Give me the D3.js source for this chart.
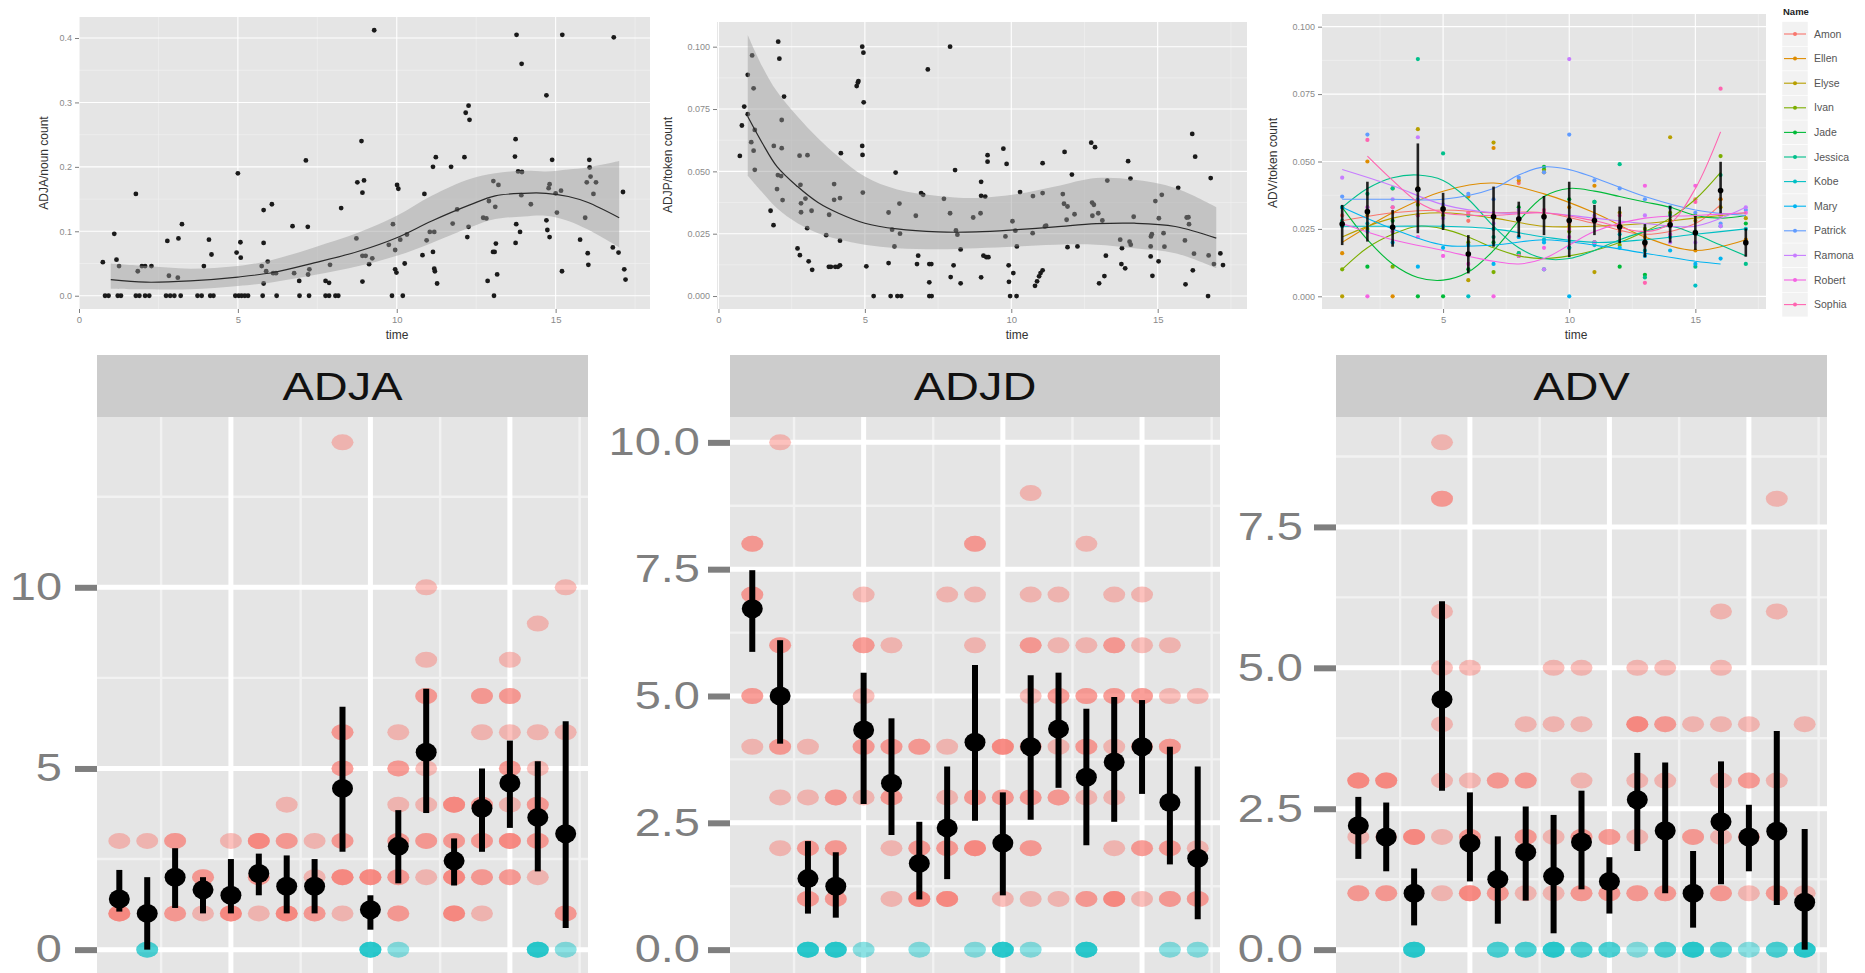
<!DOCTYPE html>
<html>
<head>
<meta charset="utf-8">
<script src="https://cdn.jsdelivr.net/npm/d3@7"></script>
<style>
  body { margin: 0; background: #fff; }
  svg { display: block; font-family: "Liberation Sans", Arial, sans-serif; }
</style>
</head>
<body>
<svg id="chart" width="1865" height="973"></svg>
<script>
// ---------- top left: ADJA / noun count ----------
const adjaNounPoints = [
  [0.82,0],[0.93,0],[1.22,0],[1.32,0],[1.79,0],[1.90,0],[2.08,0],[2.21,0],[2.74,0],[2.87,0],[3.00,0],[3.20,0],
  [3.73,0],[3.86,0],[4.13,0],[4.23,0],[4.92,0],[5.03,0],[5.12,0],[5.22,0],[5.32,0],[5.78,0],[6.22,0],[6.94,0],
  [7.24,0],[7.76,0],[7.87,0],[8.07,0],[8.16,0],[9.85,0],[10.19,0],[13.06,0],
  [0.75,0.052],[1.11,0.096],[1.18,0.056],[1.26,0.046],[1.79,0.158],[1.85,0.038],[1.98,0.046],[2.08,0.046],
  [2.28,0.046],[2.78,0.085],[2.83,0.031],[3.11,0.028],[3.13,0.089],[3.24,0.111],[3.93,0.046],[4.09,0.087],
  [4.17,0.064],[4.96,0.067],[5.00,0.190],[5.08,0.083],[5.09,0.059],[5.75,0.046],[5.81,0.133],[5.81,0.082],
  [5.81,0.019],[5.89,0.038],[5.94,0.053],[6.07,0.142],[6.11,0.035],[6.20,0.035],[6.72,0.108],[6.77,0.035],
  [6.93,0.023],[7.14,0.210],[7.20,0.107],[7.21,0.033],[7.25,0.041],[7.76,0.023],[7.87,0.020],[7.90,0.048],
  [8.25,0.136],[8.73,0.089],[8.76,0.176],[8.89,0.240],[8.92,0.160],[8.97,0.179],[8.92,0.062],[8.92,0.022],
  [9.02,0.062],[9.13,0.049],[9.23,0.058],[9.29,0.412],[9.75,0.079],[9.88,0.111],[9.95,0.071],[9.95,0.041],
  [9.99,0.036],[10.01,0.172],[10.05,0.166],[10.11,0.087],[10.25,0.050],[10.32,0.095],[10.81,0.063],[10.87,0.158],
  [10.94,0.086],[11.04,0.099],[11.14,0.200],[11.18,0.099],[11.14,0.068],[11.18,0.042],[11.20,0.038],[11.23,0.215],
  [11.27,0.019],[11.71,0.200],[11.76,0.112],[11.90,0.134],[12.13,0.215],[12.17,0.284],[12.26,0.295],[12.29,0.273],
  [12.22,0.091],[12.26,0.107],[12.72,0.121],[12.82,0.120],[12.86,0.023],[12.90,0.147],[13.04,0.178],[13.10,0.138],
  [13.03,0.068],[13.08,0.068],[13.12,0.081],[13.16,0.033],[13.20,0.172],[13.77,0.405],[13.93,0.360],[13.74,0.243],
  [13.72,0.216],[13.82,0.193],[13.94,0.192],[13.76,0.111],[13.74,0.082],[13.88,0.099],[13.92,0.156],[14.22,0.142],
  [14.71,0.311],[14.71,0.117],[14.74,0.102],[14.78,0.167],[14.81,0.173],[14.81,0.091],[14.89,0.211],[15.00,0.159],
  [15.04,0.129],[15.17,0.163],[15.21,0.405],[15.20,0.038],[15.77,0.087],[15.93,0.121],[15.98,0.176],[16.01,0.066],
  [16.03,0.048],[16.06,0.211],[16.07,0.199],[16.10,0.185],[16.19,0.158],[16.27,0.176],[16.83,0.401],[16.80,0.075],
  [16.98,0.067],[17.12,0.161],[17.16,0.041],[17.20,0.025]
];
const adjaNounSmoothTime = [1, 2.1, 3.5, 5, 6.1, 7.4, 8.8, 10, 11.1, 12.3, 13.1, 14, 14.7, 15.4, 16, 17];
const adjaNounFit   = [0.025,0.021,0.023,0.029,0.036,0.051,0.069,0.090,0.116,0.141,0.155,0.159,0.159,0.154,0.145,0.121];
const adjaNounLower = [0.011,0.010,0.010,0.015,0.021,0.032,0.046,0.062,0.082,0.106,0.119,0.123,0.124,0.116,0.103,0.075];
const adjaNounUpper = [0.050,0.046,0.042,0.046,0.056,0.075,0.098,0.124,0.155,0.181,0.190,0.194,0.193,0.196,0.199,0.209];

// ---------- top middle: ADJP / token count ----------
const adjpTokenPoints = [
  [0.73,0.0562],[0.80,0.0684],[0.88,0.0760],[1.00,0.0887],[1.00,0.0729],[1.12,0.0617],[1.15,0.0965],[1.20,0.0833],
  [1.20,0.0583],[1.24,0.0506],[1.24,0.0666],[1.78,0.0342],[1.88,0.0284],[1.89,0.0602],[2.00,0.0429],[2.03,0.0485],
  [2.04,0.1020],[2.08,0.0952],[2.14,0.0481],[2.16,0.0706],[2.16,0.0593],[2.19,0.0385],[2.24,0.0800],[2.70,0.0191],
  [2.77,0.0563],[2.78,0.0164],[2.80,0.0446],[2.82,0.0336],[2.82,0.0372],[2.97,0.0391],[3.04,0.0565],[3.03,0.0272],
  [3.08,0.0139],[3.20,0.0105],[3.18,0.0342],[3.68,0.0244],[3.77,0.0117],[3.78,0.0326],[3.84,0.0117],[3.95,0.0449],
  [3.95,0.0386],[3.99,0.0117],[4.08,0.0117],[4.15,0.0123],[4.15,0.0222],[4.15,0.0393],[4.18,0.0573],[4.72,0.0842],
  [4.76,0.0856],[4.78,0.0862],[4.91,0.1000],[4.91,0.0602],[4.92,0.0566],[4.93,0.0415],[4.95,0.0976],[4.96,0.0777],
  [5.05,0.0119],[5.30,0],[5.81,0.0335],[5.81,0.0132],[5.88,0],[5.93,0.0266],[6.01,0.0199],[6.05,0.0495],
  [6.11,0],[6.18,0.0371],[6.20,0.0250],[6.24,0],[6.74,0.0322],[6.82,0.0162],[6.78,0.0128],[6.92,0.0413],
  [6.99,0.0406],[7.15,0.0909],[7.20,0],[7.20,0.0128],[7.20,0.0055],[7.27,0.0128],[7.28,0],[7.70,0.0390],
  [7.91,0.0332],[7.91,0.1000],[7.93,0.0076],[8.03,0.0123],[8.08,0.0505],[8.11,0.0263],[8.16,0.0246],[8.27,0.0187],
  [8.27,0.0051],[8.70,0.0315],[8.95,0.0332],[8.97,0.0075],[8.97,0.0458],[8.97,0.0402],[9.05,0.0162],[9.11,0.0399],
  [9.15,0.0156],[9.19,0.0565],[9.19,0.0539],[9.22,0.0156],[9.73,0.0591],[9.80,0.0239],[9.84,0.0530],[9.91,0.0123],
  [9.92,0.0057],[9.96,0],[10.04,0.0300],[10.07,0.0092],[10.14,0.0262],[10.19,0.0199],[10.18,0],[10.30,0.0417],
  [10.73,0.0252],[10.74,0.0401],[10.81,0.0041],[10.88,0.0059],[10.95,0.0079],[11.00,0.0092],[11.07,0.0103],[11.07,0.0533],
  [11.07,0.0413],[11.15,0.0279],[11.19,0.0282],[11.76,0.0409],[11.80,0.0370],[11.82,0.0578],[11.92,0.0359],[11.89,0.0306],
  [11.92,0.0196],[12.07,0.0487],[12.16,0.0328],[12.26,0.0199],[12.73,0.0615],[12.76,0.0375],[12.77,0.0322],[12.82,0.0366],
  [12.86,0.0597],[12.97,0.0332],[13.00,0.0051],[13.11,0.0303],[13.18,0.0080],[13.23,0.0162],[13.28,0.0463],[13.72,0.0226],
  [13.76,0.0128],[13.78,0.0192],[13.89,0.0111],[13.99,0.0541],[14.04,0.0218],[14.07,0.0471],[14.08,0.0206],[14.18,0.0318],
  [14.76,0.0159],[14.76,0.0199],[14.82,0.0081],[14.77,0.0239],[14.80,0.0248],[14.92,0.0381],[15.03,0.0139],[15.04,0.0312],
  [15.14,0.0406],[15.20,0.0252],[15.23,0.0198],[15.70,0.0434],[15.95,0.0047],[15.93,0.0223],[15.99,0.0315],[16.05,0.0316],
  [16.07,0.0288],[16.18,0.0650],[16.20,0.0103],[16.24,0.0170],[16.28,0.0559],[16.72,0],[16.74,0.0163],[16.81,0.0473],
  [16.92,0.0128],[17.14,0.0171],[17.23,0.0124]
];
const adjpTokenSmoothTime = [1, 1.5, 2, 2.7, 3.4, 4.1, 5, 6.1, 7.5, 8.8, 10.2, 11.5, 12.9, 14.2, 15.6, 17];
const adjpTokenFit   = [0.0720,0.0613,0.0519,0.0439,0.0375,0.0332,0.0292,0.0269,0.0257,0.0257,0.0266,0.0277,0.0290,0.0292,0.0279,0.0232];
const adjpTokenLower = [0.0482,0.0415,0.0352,0.0292,0.0252,0.0228,0.0206,0.0192,0.0188,0.0192,0.0199,0.0206,0.0206,0.0192,0.0172,0.0112];
const adjpTokenUpper = [0.1047,0.0920,0.0820,0.0720,0.0633,0.0559,0.0479,0.0427,0.0401,0.0393,0.0409,0.0439,0.0473,0.0466,0.0433,0.0356];

// ---------- top right: ADV / token count by speaker ----------
const speakerNames  = ["Amon","Ellen","Elyse","Ivan","Jade","Jessica","Kobe","Mary","Patrick","Ramona","Robert","Sophia"];
const speakerColors = ["#F8766D","#DE8C00","#B79F00","#7CAE00","#00BA38","#00C08B","#00BFC4","#00B4F0","#619CFF","#C77CFF","#F564E3","#FF64B0"];
// one row per speaker, times 1..17
const advTokenValues = [
  [0.030,0.033,0.031,0.035,0.031,0.028,0.030,0.042,0.031,0.027,0.029,0.024,0.019,0.028,0.036,0.036,null],
  [0.016,0.050,0.000,0.040,0.033,0.037,0.055,0.043,0.046,0.033,0.041,0.025,0.022,0.028,0.017,0.036,0.021],
  [0.000,0.030,0.040,0.062,0.031,0.006,0.057,0.016,0.030,0.026,0.009,0.031,0.020,0.059,0.028,0.033,0.029],
  [0.010,0.025,0.011,0.034,0.030,0.020,0.009,0.015,0.047,0.024,0.020,0.019,0.025,0.031,0.030,0.052,null],
  [0.033,0.011,0.028,0.000,0.000,0.010,0.020,0.033,0.048,0.036,0.035,0.011,0.008,0.033,0.024,0.030,0.027],
  [0.028,0.038,0.040,0.088,0.053,0.030,0.022,0.016,0.010,0.018,0.035,0.049,0.007,0.030,0.011,0.045,0.012],
  [0.026,0.027,0.024,0.030,0.026,0.000,0.025,0.022,0.021,0.018,0.019,0.023,0.017,0.022,0.004,0.026,0.025],
  [0.033,0.024,0.020,0.011,0.018,0.019,0.012,0.022,0.020,0.000,0.020,0.018,0.015,0.017,0.012,0.014,null],
  [0.037,0.060,0.033,0.036,0.034,0.038,0.036,0.044,0.046,0.060,0.043,0.040,0.036,0.033,0.031,0.027,0.032],
  [0.044,0.033,0.036,0.059,0.029,0.031,0.027,0.032,0.010,0.088,0.030,0.026,0.030,0.020,0.020,0.026,0.033],
  [0.027,0.000,0.024,0.022,0.015,0.012,0.000,0.015,0.018,0.022,0.020,0.027,0.041,0.023,0.041,0.030,0.031],
  [null,0.058,0.033,0.030,0.031,0.031,0.031,0.029,0.032,0.025,0.029,0.030,0.005,0.026,0.035,0.077,null]
];
// smoothed trend per speaker as [time, value] knots
const advTokenSmooth = [
  [[1,0.028],[3,0.031],[5,0.032],[7,0.031],[9,0.031],[11,0.027],[13,0.023],[15,0.027],[16,0.034]],
  [[1,0.020],[3,0.031],[5,0.039],[7,0.042],[9,0.038],[11,0.031],[13,0.022],[15,0.017],[17,0.021]],
  [[1,0.022],[3,0.029],[5,0.031],[7,0.029],[9,0.026],[11,0.026],[13,0.027],[15,0.029],[17,0.031]],
  [[1,0.010],[2,0.018],[3,0.023],[4,0.026],[5,0.025],[6,0.022],[7,0.018],[8,0.015],[9,0.014],[10,0.015],[11,0.017],[12,0.020],[13,0.024],[14,0.029],[15,0.036],[16,0.046]],
  [[1,0.033],[2,0.021],[3,0.012],[4,0.007],[5,0.006],[6,0.009],[7,0.017],[8,0.028],[9,0.037],[10,0.040],[11,0.039],[12,0.037],[13,0.035],[14,0.033],[15,0.030],[16,0.029],[17,0.030]],
  [[1,0.033],[2,0.040],[3,0.044],[4,0.045],[5,0.043],[6,0.036],[7,0.026],[8,0.018],[9,0.014],[10,0.014],[11,0.017],[12,0.021],[13,0.024],[14,0.026],[15,0.023],[16,0.019],[17,0.015]],
  [[1,0.026],[3,0.026],[5,0.026],[7,0.025],[9,0.022],[11,0.020],[13,0.021],[15,0.023],[17,0.025]],
  [[1,0.033],[3,0.025],[5,0.019],[7,0.019],[9,0.021],[11,0.019],[13,0.016],[15,0.013],[16,0.012]],
  [[1,0.036],[3,0.036],[5,0.036],[7,0.040],[8,0.045],[9,0.048],[10,0.047],[11,0.044],[13,0.037],[15,0.032],[17,0.030]],
  [[1,0.047],[3,0.041],[5,0.034],[7,0.031],[9,0.031],[11,0.029],[13,0.027],[15,0.026],[17,0.033]],
  [[1,0.027],[3,0.021],[5,0.017],[7,0.013],[8,0.012],[9,0.014],[10,0.019],[11,0.024],[13,0.029],[15,0.030],[17,0.031]],
  [[2,0.052],[3,0.043],[4,0.035],[5,0.031],[7,0.030],[9,0.031],[11,0.028],[13,0.024],[14,0.027],[15,0.040],[16,0.061]]
];
const advTokenMean = [0.0268,0.0314,0.0256,0.0397,0.0324,0.0157,0.0295,0.0287,0.0295,0.0281,0.0281,0.0258,0.0199,0.0265,0.0236,0.0392,0.0199];
const advTokenLo   = [0.0190,0.0203,0.0184,0.0234,0.0246,0.0085,0.0184,0.0219,0.0227,0.0145,0.0227,0.0197,0.0145,0.0199,0.0172,0.0308,0.0147];
const advTokenHi   = [0.0339,0.0425,0.0320,0.0567,0.0384,0.0227,0.0407,0.0351,0.0372,0.0425,0.0339,0.0333,0.0268,0.0335,0.0298,0.0499,0.0252];

// ---------- bottom facets: counts per recording (time 1..17) ----------
const facetNames = ["ADJA", "ADJD", "ADV"];
const adjaObs = [[3,1,1,1],[3,0,0],[3,3,1,1],[2,2,1],[3,1,1,1],[3,3,3,2,2,1],[4,3,3,1,1,1],[3,2,1,1],
  [14,6,6,5,5,3,3,2,2,2,1],[2,2,2,0,0,0],[6,5,5,4,3,3,2,2,1,1,0],[10,8,7,7,5,4,3,3,2],[4,4,4,3,3,2,2,2,1,1,1],
  [7,7,6,4,4,3,3,2,2,1],[8,7,7,6,5,5,4,3,3,3,2,2],[9,6,5,4,4,3,3,2,0,0,0],[10,6,1,1,0]];
const adjaMean = [1.4,1.0,2.0,1.65,1.5,2.1,1.75,1.75,4.45,1.1,2.85,5.45,2.45,3.9,4.6,3.65,3.2];
const adjaLo   = [1.05,0.0,1.15,1.0,1.0,1.5,1.0,1.0,2.7,0.55,1.83,3.77,1.77,2.7,3.36,2.16,0.6];
const adjaHi   = [2.2,2.0,2.8,2.0,2.5,2.65,2.6,2.5,6.7,1.5,3.85,7.2,3.07,5.0,5.77,5.2,6.3];

const adjdObs = [[8,8,7,7,5,5,4],[10,6,6,4,4,3,2],[4,3,2,2,1,1,0,0,0],[3,3,2,2,1,1,0,0,0],[7,6,6,5,4,4,3,0],
  [6,4,4,3,3,2,1],[4,4,2,2,1,1,1,0],[7,4,3,2,2,1,1,1],[8,8,7,6,3,3,2,2,2,0],[4,4,4,3,3,1,0,0,0],
  [9,7,6,6,5,4,4,3,3,2,2,1,0],[7,6,5,5,4,3,3,1],[8,6,5,5,4,4,3,1,1,0,0,0],[7,6,6,5,5,4,3,2,1,1,1],
  [7,6,5,5,4,4,2,2,1],[6,5,4,4,2,2,1,1,0],[5,2,1,1,0]];
const adjdMean = [6.72,5.0,1.4,1.25,4.33,3.28,1.7,2.4,4.09,2.1,4.0,4.35,3.4,3.7,4.0,2.9,1.8];
const adjdLo   = [5.87,4.06,0.71,0.63,2.87,2.26,0.99,1.39,2.54,1.07,2.56,3.19,2.06,2.52,3.07,1.68,0.6];
const adjdHi   = [7.48,6.1,2.14,1.92,5.46,4.56,2.52,3.61,5.61,3.1,5.41,5.46,4.75,4.98,4.92,4.0,3.61];

const advObs = [[3,3,3,2,1,1],[3,3,3,2,1,1],[2,2,2,0,0,0],[9,8,8,6,5,4,3,2,1],[5,3,2,2,1,1,1],[3,3,1,1,0,0],
  [4,3,3,2,2,1,0,0],[5,4,2,1,0,0,0],[5,4,3,2,2,1,1,0,0],[2,2,1,1,0,0],[5,4,4,4,3,2,1,1,0],[5,4,4,3,1,1,0,0],
  [4,2,2,0,0,0],[6,5,4,3,2,1,1,0,0],[4,3,3,2,2,1,0],[8,6,3,1,1,0,0],[4,1,0,0,0]];
const advMean = [2.2,2.0,1.0,4.44,1.89,1.25,1.73,1.3,1.91,1.21,2.66,2.11,1.0,2.27,2.0,2.1,0.84];
const advLo   = [1.61,1.39,0.43,2.82,1.21,0.46,0.87,0.29,1.07,0.64,1.75,1.0,0.39,1.16,1.39,0.79,0.0];
const advHi   = [2.71,2.61,1.44,6.18,2.79,2.01,2.54,2.39,2.82,1.64,3.49,3.32,1.75,3.34,2.57,3.88,2.14];

const facetBreaks = [[0,5,10],[0,2.5,5,7.5,10],[0,2.5,5,7.5]];

// ------------------------------------------------------------
const svg = d3.select("#chart");
const PANEL = "#E5E5E5", MINOR = "#F2F2F2";
const STRETCH = 1.22; // the lower strip of panels is stretched sideways

function drawGrid(g, x, y, xMajor, xMinor, yMajor, yMinor, wMajor, wMinor) {
  const [x0, x1] = x.range(), [y0, y1] = y.range();
  g.append("rect").attr("x", x0).attr("y", y1).attr("width", x1 - x0).attr("height", y0 - y1).attr("fill", PANEL);
  const vl = (vals, col, w) => g.append("g").selectAll("line").data(vals).join("line")
    .attr("x1", d => x(d)).attr("x2", d => x(d)).attr("y1", y0).attr("y2", y1)
    .attr("stroke", col).attr("stroke-width", w);
  const hl = (vals, col, w) => g.append("g").selectAll("line").data(vals).join("line")
    .attr("y1", d => y(d)).attr("y2", d => y(d)).attr("x1", x0).attr("x2", x1)
    .attr("stroke", col).attr("stroke-width", w);
  vl(xMinor, MINOR, wMinor); hl(yMinor, MINOR, wMinor);
  vl(xMajor, "#fff", wMajor); hl(yMajor, "#fff", wMajor);
}

function styleAxis(sel, size, color, tickW) {
  sel.select(".domain").remove();
  sel.selectAll(".tick line").attr("stroke", "#7f7f7f").attr("stroke-width", tickW);
  sel.selectAll(".tick text").attr("fill", color).style("font-size", size + "px").style("font-family", "Liberation Sans, Arial, sans-serif");
}

function topAxes(g, x, y, xTicks, yTicks, yFmt, xTitle, yTitle) {
  const yb = y.range()[0], xl = x.range()[0];
  g.append("g").attr("transform", `translate(0,${yb})`)
    .call(d3.axisBottom(x).tickValues(xTicks).tickSize(4).tickPadding(3).tickFormat(d3.format("d")))
    .call(s => styleAxis(s, 9.5, "#8a8a8a", 1));
  g.append("g").attr("transform", `translate(${xl},0)`)
    .call(d3.axisLeft(y).tickValues(yTicks).tickSize(4).tickPadding(3).tickFormat(yFmt))
    .call(s => styleAxis(s, 9, "#8a8a8a", 1));
  g.append("text").attr("x", xTitle[0]).attr("y", xTitle[1]).attr("text-anchor", "middle")
    .attr("font-size", 12).attr("fill", "#333").text(xTitle[2]);
  g.append("text").attr("transform", `translate(${yTitle[0]},${yTitle[1]}) rotate(-90)`)
    .attr("text-anchor", "middle").attr("font-size", 12).attr("fill", "#333").text(yTitle[2]);
}

function smoothPanel(g, x, y, pts, tt, fit, lo, hi) {
  const band = tt.map((t, i) => ({ t, f: fit[i], lo: lo[i], hi: hi[i] }));
  g.append("g").selectAll("circle").data(pts).join("circle")
    .attr("cx", d => x(d[0])).attr("cy", d => y(d[1])).attr("r", 2.4).attr("fill", "#1a1a1a");
  g.append("path").datum(band).attr("fill", "#999").attr("fill-opacity", 0.45)
    .attr("d", d3.area().curve(d3.curveCatmullRom).x(d => x(d.t)).y0(d => y(d.lo)).y1(d => y(d.hi)));
  g.append("path").datum(band).attr("fill", "none").attr("stroke", "#2a2a2a").attr("stroke-width", 1.2)
    .attr("d", d3.line().curve(d3.curveCatmullRom).x(d => x(d.t)).y(d => y(d.f)));
}

// ---- panel 1
{
  const g = svg.append("g");
  const x = d3.scaleLinear([0, 17.97], [79, 650]);
  const y = d3.scaleLinear([-0.0206, 0.4326], [309, 17]);
  drawGrid(g, x, y, [0,5,10,15], [2.5,7.5,12.5,17.5], [0,0.1,0.2,0.3,0.4], [0.05,0.15,0.25,0.35], 1.1, 0.6);
  smoothPanel(g, x, y, adjaNounPoints, adjaNounSmoothTime, adjaNounFit, adjaNounLower, adjaNounUpper);
  topAxes(g, x, y, [0,5,10,15], [0,0.1,0.2,0.3,0.4], d3.format(".1f"),
    [397, 339, "time"], [48, 163, "ADJA/noun count"]);
}
// ---- panel 2
{
  const g = svg.append("g");
  const x = d3.scaleLinear([-0.05, 18.05], [717, 1247]);
  const y = d3.scaleLinear([-0.0052, 0.1099], [309, 22]);
  drawGrid(g, x, y, [0,5,10,15], [2.5,7.5,12.5,17.5], [0,0.025,0.05,0.075,0.1], [0.0125,0.0375,0.0625,0.0875], 1.1, 0.6);
  smoothPanel(g, x, y, adjpTokenPoints, adjpTokenSmoothTime, adjpTokenFit, adjpTokenLower, adjpTokenUpper);
  topAxes(g, x, y, [0,5,10,15], [0,0.025,0.05,0.075,0.1], d3.format(".3f"),
    [1017, 339, "time"], [672, 165, "ADJP/token count"]);
}
// ---- panel 3
{
  const g = svg.append("g");
  const x = d3.scaleLinear([0.2, 17.8], [1322, 1766]);
  const y = d3.scaleLinear([-0.0047, 0.1047], [309, 14]);
  drawGrid(g, x, y, [5,10,15], [2.5,7.5,12.5,17.5], [0,0.025,0.05,0.075,0.1], [0.0125,0.0375,0.0625,0.0875], 1.1, 0.6);
  const pts = [];
  advTokenValues.forEach((row, k) => row.forEach((v, i) => { if (v !== null) pts.push({ t: i + 1, v, k }); }));
  g.append("g").selectAll("circle").data(pts).join("circle")
    .attr("cx", d => x(d.t)).attr("cy", d => y(d.v)).attr("r", 2.1).attr("fill", d => speakerColors[d.k]);
  const line = d3.line().curve(d3.curveCatmullRom).x(d => x(d[0])).y(d => y(d[1]));
  g.append("g").selectAll("path").data(advTokenSmooth).join("path")
    .attr("d", line).attr("fill", "none").attr("stroke", (d, i) => speakerColors[i]).attr("stroke-width", 1.1);
  const times = d3.range(1, 18);
  g.append("g").selectAll("line").data(times).join("line")
    .attr("x1", t => x(t)).attr("x2", t => x(t))
    .attr("y1", t => y(advTokenLo[t - 1])).attr("y2", t => y(advTokenHi[t - 1]))
    .attr("stroke", "#000").attr("stroke-width", 2.6).attr("stroke-opacity", 0.85);
  g.append("g").selectAll("circle").data(times).join("circle")
    .attr("cx", t => x(t)).attr("cy", t => y(advTokenMean[t - 1])).attr("r", 2.8).attr("fill", "#000");
  topAxes(g, x, y, [5,10,15], [0,0.025,0.05,0.075,0.1], d3.format(".3f"),
    [1576, 339, "time"], [1277, 163, "ADV/token count"]);

  // legend
  const lg = svg.append("g");
  lg.append("text").attr("x", 1783).attr("y", 15).attr("font-size", 9.5).attr("font-weight", "bold")
    .attr("fill", "#222").text("Name");
  const rows = lg.selectAll("g.key").data(speakerNames).join("g").attr("class", "key")
    .attr("transform", (d, i) => `translate(0,${34 + i * 24.6})`);
  rows.append("rect").attr("x", 1782).attr("y", -12.3).attr("width", 26).attr("height", 24.6)
    .attr("fill", MINOR).attr("stroke", "#fff").attr("stroke-width", 0.5);
  rows.append("line").attr("x1", 1784).attr("x2", 1806).attr("y1", 0).attr("y2", 0)
    .attr("stroke", (d, i) => speakerColors[i]).attr("stroke-width", 1.1);
  rows.append("circle").attr("cx", 1795).attr("cy", 0).attr("r", 2).attr("fill", (d, i) => speakerColors[i]);
  rows.append("text").attr("x", 1814).attr("y", 3.5).attr("font-size", 10.5).attr("fill", "#555").text(d => d);
}

// ---- bottom facets
const facetData = [
  { obs: adjaObs, mean: adjaMean, lo: adjaLo, hi: adjaHi, fmt: d3.format("d"), left: 97, right: 588, pad: 13 },
  { obs: adjdObs, mean: adjdMean, lo: adjdLo, hi: adjdHi, fmt: d3.format(".1f"), left: 730, right: 1220, pad: 8 },
  { obs: advObs, mean: advMean, lo: advLo, hi: advHi, fmt: d3.format(".1f"), left: 1336, right: 1827, pad: 11 }
];

facetData.forEach((f, idx) => {
  const g = svg.append("g");
  const maxV = Math.max(d3.max(f.obs.flat()), d3.max(f.hi));
  const x = d3.scaleLinear([0.2, 17.8], [f.left, f.right]);
  const y = d3.scaleLinear([-0.05 * maxV, 1.05 * maxV], [975, 417]);
  const breaks = facetBreaks[idx];
  const step = breaks[1] - breaks[0];
  const minors = breaks.map(b => b + step / 2).filter(v => v < y.domain()[1]);
  drawGrid(g, x, y, [5,10,15], [2.5,7.5,12.5,17.5], breaks, minors, 5, 2.4);

  const pts = [];
  f.obs.forEach((vals, i) => vals.forEach(v => pts.push({ t: i + 1, v })));
  g.append("g").selectAll("ellipse").data(pts).join("ellipse")
    .attr("cx", d => x(d.t)).attr("cy", d => y(d.v)).attr("rx", 11).attr("ry", 8)
    .attr("fill", d => d.v > 0 ? "#F8766D" : "#00BFC4").attr("fill-opacity", 0.45);

  const times = d3.range(1, 18);
  g.append("g").selectAll("line").data(times).join("line")
    .attr("x1", t => x(t)).attr("x2", t => x(t))
    .attr("y1", t => y(f.lo[t - 1])).attr("y2", t => y(f.hi[t - 1]))
    .attr("stroke", "#000").attr("stroke-width", 6);
  g.append("g").selectAll("ellipse").data(times).join("ellipse")
    .attr("cx", t => x(t)).attr("cy", t => y(f.mean[t - 1])).attr("rx", 10.5).attr("ry", 9.5).attr("fill", "#000");

  // strip
  g.append("rect").attr("x", f.left).attr("y", 355).attr("width", f.right - f.left).attr("height", 62).attr("fill", "#CCCCCC");
  g.append("text").attr("transform", `translate(${(f.left + f.right) / 2},399.5) scale(${STRETCH},1)`)
    .attr("text-anchor", "middle").attr("font-size", 38.5).attr("fill", "#111").text(facetNames[idx]);

  const ax = g.append("g").attr("transform", `translate(${f.left},0)`)
    .call(d3.axisLeft(y).tickValues(breaks).tickSize(22).tickPadding(f.pad).tickFormat(f.fmt))
    .call(s => styleAxis(s, 38.5, "#7f7f7f", 6));
  ax.selectAll(".tick text")
    .attr("x", 0)
    .attr("transform", `translate(${-(22 + f.pad)},0) scale(${STRETCH},1)`);
});
</script>
</body>
</html>
